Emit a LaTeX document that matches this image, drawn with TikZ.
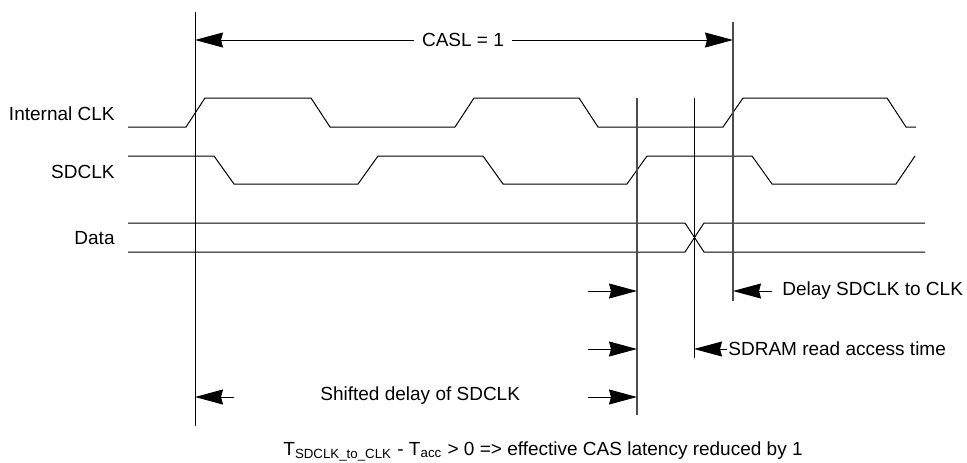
\documentclass[tikz,border=0pt]{standalone}
\usepackage{fontspec}
\setmainfont{Liberation Sans}
\usetikzlibrary{positioning,arrows.meta}

\begin{document}
\begin{tikzpicture}[x=0.5pt,y=-0.5pt,
  every node/.style={font=\fontsize{9.5}{11}\selectfont,inner sep=0pt},
  wave/.style={line width=0.5pt,line join=miter},
  tline/.style={line width=0.5pt},
  tlinegray/.style={line width=0.65pt,draw=black!70},
  arrow/.style={-{Stealth[length=14pt,width=7.5pt,inset=1pt]},line width=0.5pt}
]
  \useasboundingbox (0,0) rectangle (967,462);

  % signal names
  \node[anchor=east] (clk)   at (115,114) {Internal CLK};
  \node[anchor=east] (sdclk) at (115,172) {SDCLK};
  \node[anchor=east] (data)  at (115,238) {Data};

  % waveforms
  \draw[wave] (128,127) -- (186,127) -- (205,98) -- (311,98) -- (330,127) -- (455,127)
    -- (474,98) -- (579,98) -- (598,127) -- (723,127) -- (743,98) -- (887,98)
    -- (906,127) -- (916,127);
  \draw[wave] (128,156) -- (214,156) -- (234,184) -- (358,184) -- (378,156) -- (483,156)
    -- (503,184) -- (627,184) -- (647,156) -- (752,156) -- (772,184) -- (896,184)
    -- (915,156);
  \draw[wave] (128,223) -- (685,223) -- (704,252) -- (925,252);
  \draw[wave] (128,252) -- (685,252) -- (704,223) -- (925,223);

  % timing marks
  \coordinate (a top) at (195,12);  \coordinate (a bot) at (195,426);
  \coordinate (b top) at (637,98);  \coordinate (b bot) at (637,415);
  \coordinate (c top) at (694,98);  \coordinate (c bot) at (694,358);
  \coordinate (d top) at (733,22);  \coordinate (d bot) at (733,301);
  \draw[tline] (a top) -- (a bot);
  \draw[tlinegray] (b top) -- (b bot);
  \draw[tline] (c top) -- (c bot);
  \draw[tlinegray] (d top) -- (d bot);

  % CAS latency
  \node[inner sep=4pt] (casl) at (463,40) {CASL = 1};
  \coordinate (a casl) at (195,40);
  \coordinate (d casl) at (733,40);
  \draw[arrow] (casl) -- (a casl);
  \draw[arrow] (casl) -- (d casl);

  % delays
  \foreach \y/\n in {291/1,349/2,397/3} {
    \coordinate (in\n) at (588,\y);
    \coordinate (b\n) at (637,\y);
    \draw[arrow] (in\n) -- (b\n);
  }
  \node[anchor=west,inner sep=5pt] (dly) at (772,291) {Delay SDCLK to CLK};
  \coordinate (d dly) at (733,291);
  \draw[arrow] (dly.west) -- (d dly);

  \node[anchor=west,inner sep=0.5pt] (acc) at (727,349) {SDRAM read access time};
  \coordinate (c acc) at (694,349);
  \draw[arrow] (acc.west) -- (c acc);

  \coordinate (sh) at (234,397);
  \coordinate (a sh) at (195,397);
  \draw[arrow] (sh) -- (a sh);
  \node[anchor=west] (shift) at (320,396) {Shifted delay of SDCLK};

  \node[anchor=base west] (note) at (283,455)
    {T\textsubscript{SDCLK\_to\_CLK} - T\textsubscript{acc} > 0 => effective CAS latency reduced by 1};
\end{tikzpicture}
\end{document}
